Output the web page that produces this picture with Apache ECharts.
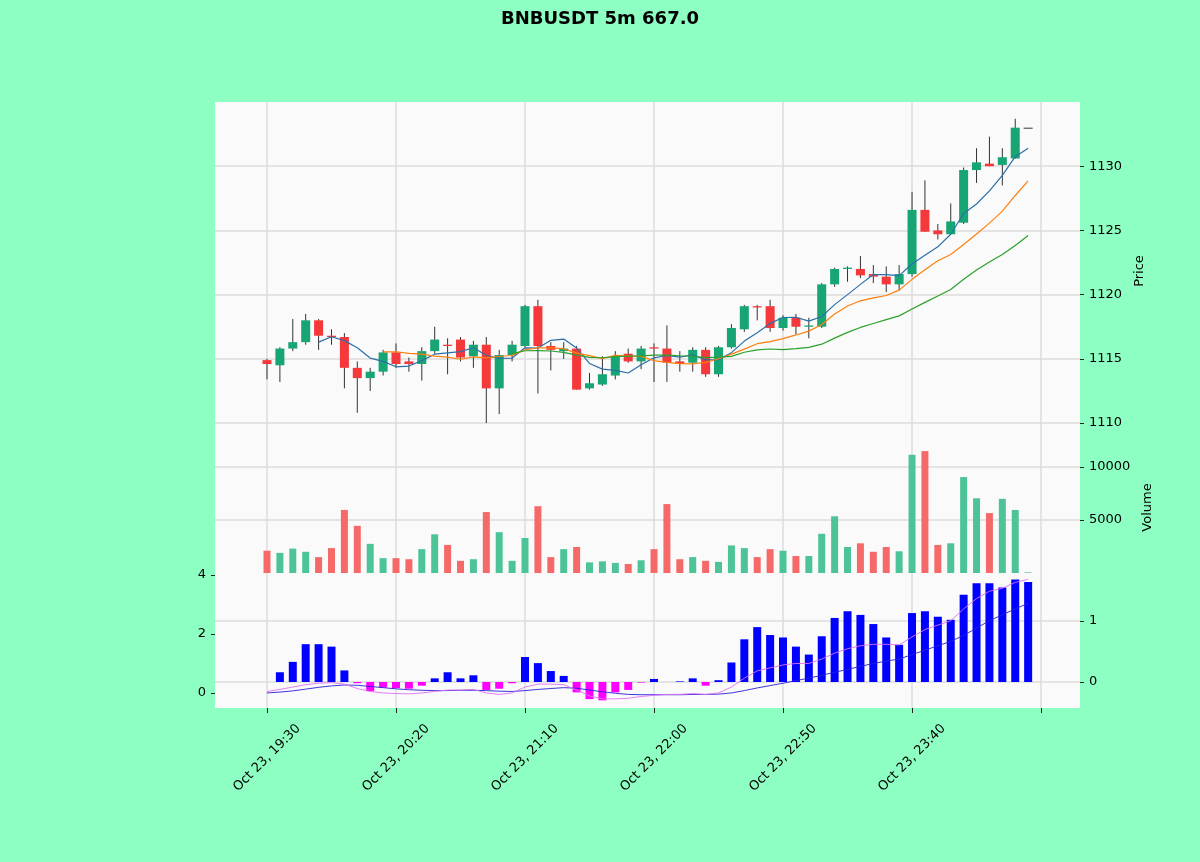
<!DOCTYPE html>
<html>
<head>
    <meta charset="utf-8">
    <title>BNBUSDT 5m</title>
    <script src="https://cdn.jsdelivr.net/npm/echarts@6/dist/echarts.min.js"></script>
    <style>
        html, body {margin: 0; padding: 0; background: #8effc2;}
        #chart {width: 1200px; height: 862px;}
    </style>
</head>
<body>
<div id="chart"></div>
<script type="text/javascript">
    // candle data, 5m bars from Oct 23 19:30
    var opens = [1114.9, 1114.5, 1115.8, 1116.3, 1118.0, 1116.8, 1116.7, 1114.3, 1113.5, 1114.0,
        1115.5, 1114.8, 1114.6, 1115.6, 1116.1, 1116.5, 1115.2, 1116.1, 1112.7, 1115.3,
        1116.0, 1119.1, 1116.0, 1115.6, 1115.8, 1112.7, 1113.0, 1113.7, 1115.4, 1114.8,
        1115.9, 1115.8, 1114.8, 1114.7, 1115.7, 1113.8, 1115.9, 1117.3, 1119.1, 1119.1,
        1117.4, 1118.2, 1117.5, 1117.5, 1120.8, 1122.0, 1122.0, 1121.6, 1121.4, 1120.8,
        1121.6, 1126.6, 1125.0, 1124.7, 1125.6, 1129.7, 1130.2, 1130.1, 1130.6, 1133.0];
    var highs = [1115.0, 1115.9, 1118.1, 1118.5, 1118.1, 1117.3, 1117.0, 1114.8, 1114.3, 1115.7,
        1116.2, 1115.1, 1115.9, 1117.5, 1116.6, 1116.7, 1116.4, 1116.7, 1115.7, 1116.4,
        1119.2, 1119.6, 1116.3, 1116.3, 1116.0, 1113.9, 1115.2, 1115.6, 1115.8, 1116.0,
        1116.2, 1117.6, 1115.6, 1115.9, 1115.9, 1116.0, 1117.7, 1119.2, 1119.2, 1119.6,
        1118.4, 1118.5, 1118.2, 1120.9, 1122.1, 1122.2, 1123.0, 1122.3, 1122.2, 1122.3,
        1128.0, 1128.9, 1125.5, 1127.1, 1129.9, 1131.4, 1132.3, 1131.4, 1133.7, 1133.0];
    var lows = [1113.4, 1113.2, 1115.6, 1116.1, 1115.7, 1116.1, 1112.7, 1110.8, 1112.5, 1113.7,
        1114.3, 1114.0, 1113.3, 1115.4, 1113.8, 1114.8, 1114.3, 1110.0, 1110.7, 1114.8,
        1115.9, 1112.3, 1114.1, 1115.0, 1112.6, 1112.6, 1112.9, 1113.4, 1114.7, 1114.2,
        1113.2, 1113.2, 1114.0, 1114.0, 1113.6, 1113.6, 1115.8, 1117.1, 1118.0, 1117.1,
        1117.2, 1116.9, 1116.6, 1117.4, 1120.6, 1121.0, 1121.3, 1120.9, 1120.2, 1120.3,
        1121.4, 1124.9, 1124.3, 1124.7, 1125.5, 1128.7, 1130.0, 1128.5, 1130.6, 1133.0];
    var closes = [1114.6, 1115.8, 1116.3, 1118.0, 1116.8, 1116.7, 1114.3, 1113.5, 1114.0, 1115.5,
        1114.6, 1114.6, 1115.6, 1116.5, 1116.0, 1115.1, 1116.1, 1112.7, 1115.3, 1116.1,
        1119.1, 1116.0, 1115.7, 1115.8, 1112.6, 1113.1, 1113.8, 1115.2, 1114.8, 1115.8,
        1115.8, 1114.7, 1114.6, 1115.7, 1113.8, 1115.9, 1117.4, 1119.1, 1119.0, 1117.4,
        1118.2, 1117.5, 1117.6, 1120.8, 1122.0, 1122.1, 1121.5, 1121.4, 1120.8, 1121.6,
        1126.6, 1124.9, 1124.7, 1125.7, 1129.7, 1130.3, 1130.0, 1130.7, 1133.0, 1133.0];
    var volumes = [2100, 1900, 2300, 2000, 1500, 2350, 5950, 4450, 2750, 1400,
        1400, 1300, 2250, 3650, 2650, 1150, 1300, 5750, 3850, 1150,
        3300, 6300, 1500, 2250, 2450, 1000, 1100, 950, 850, 1200,
        2250, 6500, 1300, 1500, 1150, 1050, 2600, 2350, 1500, 2250,
        2100, 1600, 1600, 3700, 5350, 2450, 2800, 2000, 2450, 2050,
        11150, 11500, 2650, 2800, 9050, 7050, 5650, 7000, 5950, 60];
    var macdHist = [null, 0.16, 0.33, 0.62, 0.62, 0.58, 0.19, -0.02, -0.15, -0.09,
        -0.10, -0.11, -0.06, 0.06, 0.16, 0.06, 0.11, -0.13, -0.11, -0.02,
        0.41, 0.31, 0.18, 0.10, -0.17, -0.28, -0.30, -0.17, -0.13, -0.01,
        0.05, 0.00, 0.01, 0.06, -0.06, 0.03, 0.32, 0.70, 0.90, 0.77,
        0.73, 0.58, 0.45, 0.75, 1.05, 1.16, 1.10, 0.95, 0.73, 0.61,
        1.13, 1.16, 1.07, 1.02, 1.43, 1.62, 1.62, 1.55, 1.68, 1.64];
    var macdLine = [0.05, 0.12, 0.20, 0.28, 0.33, 0.35, 0.30, 0.15, 0.05, 0.00,
        -0.02, -0.03, 0.00, 0.05, 0.10, 0.10, 0.12, 0.00, -0.05, 0.00,
        0.20, 0.30, 0.30, 0.28, 0.10, -0.10, -0.20, -0.20, -0.18, -0.12,
        -0.08, -0.05, -0.05, -0.02, -0.05, 0.00, 0.20, 0.50, 0.75, 0.85,
        0.95, 1.00, 1.00, 1.15, 1.35, 1.50, 1.60, 1.65, 1.65, 1.63,
        1.90, 2.15, 2.30, 2.45, 2.85, 3.20, 3.45, 3.55, 3.75, 3.85];
    var signalLine = [0.00, 0.03, 0.07, 0.13, 0.19, 0.24, 0.27, 0.26, 0.22, 0.18,
        0.14, 0.11, 0.09, 0.08, 0.08, 0.09, 0.09, 0.08, 0.06, 0.05,
        0.08, 0.12, 0.15, 0.18, 0.16, 0.10, 0.04, -0.01, -0.05, -0.06,
        -0.06, -0.06, -0.06, -0.05, -0.05, -0.04, 0.00, 0.08, 0.17, 0.25,
        0.33, 0.42, 0.50, 0.60, 0.70, 0.80, 0.90, 1.00, 1.08, 1.15,
        1.30, 1.45, 1.60, 1.75, 1.95, 2.20, 2.45, 2.65, 2.85, 3.04];
    var xTickPos = [0, 10, 20, 30, 40, 50, 60];
    var xTickLabels = ['Oct 23, 19:30', 'Oct 23, 20:20', 'Oct 23, 21:10', 'Oct 23, 22:00',
        'Oct 23, 22:50', 'Oct 23, 23:40', ''];
    var priceTicks = [1110, 1115, 1120, 1125, 1130];
    var volTicks = [5000, 10000];
    var macdLeftTicks = [0, 2, 4];
    var macdRightTicks = [0, 1];
    var maPeriods = [5, 10, 20];
    var maColors = ['#2b6fa8', '#ff7f0e', '#2ca02c'];

    var UP = '#17a673', DOWN = '#f5383a', WICK = '#333333';
    var VUP = '#4cc497', VDOWN = '#f56a68';
    var FONT = 'DejaVu Sans';

    var myChart = echarts.init(document.getElementById('chart'));

    var candleData = [], volData = [], histData = [];
    for (var i = 0; i < closes.length; i++) {
        candleData.push([i, opens[i], closes[i], lows[i], highs[i]]);
        volData.push({value: [i, volumes[i]], itemStyle: {color: closes[i] >= opens[i] ? VUP : VDOWN}});
        if (macdHist[i] !== null) {
            histData.push({value: [i, macdHist[i]], itemStyle: {color: macdHist[i] >= 0 ? '#0000ff' : '#ff00ff'}});
        }
    }

    function sma(n) {
        var out = [];
        for (var i = n - 1; i < closes.length; i++) {
            var s = 0;
            for (var k = i - n + 1; k <= i; k++) s += closes[k];
            out.push([i, s / n]);
        }
        return out;
    }

    function pairs(arr) {
        return arr.map(function (v, i) { return [i, v]; });
    }

    var gridLine = {show: true, lineStyle: {color: '#dcdcdc', width: 1.5}};

    function xAxisFor(gi, bottom) {
        return {
            type: 'value', gridIndex: gi, min: -4.03, max: 63.02,
            axisLine: {show: false, onZero: false},
            axisTick: {show: true, customValues: xTickPos, length: bottom ? 5 : 0,
                lineStyle: {color: '#222'}},
            axisLabel: bottom ? {
                show: true, customValues: xTickPos.slice(0, 6), rotate: 45,
                align: 'center', verticalAlign: 'middle', margin: 50,
                color: '#000', fontSize: 13, fontFamily: FONT,
                formatter: function (v) {
                    var k = xTickPos.indexOf(v);
                    return k >= 0 ? xTickLabels[k] : '';
                }
            } : {show: false},
            splitLine: gridLine
        };
    }

    function yAxisFor(gi, pos, min, max, ticks, split, name, gap) {
        var ax = {
            type: 'value', gridIndex: gi, position: pos, min: min, max: max,
            axisLine: {show: false, onZero: false},
            axisTick: {show: true, customValues: ticks, length: 4, lineStyle: {color: '#222'}},
            axisLabel: {
                customValues: ticks, margin: 9, color: '#000', fontSize: 13, fontFamily: FONT,
                formatter: function (v) { return String(v); }
            },
            splitLine: split ? gridLine : {show: false}
        };
        if (name) {
            ax.name = name;
            ax.nameLocation = 'middle';
            ax.nameRotate = 90;
            ax.nameGap = gap;
            ax.nameTextStyle = {color: '#000', fontSize: 13, fontFamily: FONT};
        }
        return ax;
    }

    var series = [{
        type: 'custom',
        xAxisIndex: 0, yAxisIndex: 0,
        data: candleData,
        encode: {x: 0, y: [1, 2, 3, 4]},
        z: 3,
        renderItem: function (params, api) {
            var x = api.value(0), o = api.value(1), c = api.value(2), l = api.value(3), h = api.value(4);
            var pO = api.coord([x, o]), pC = api.coord([x, c]);
            var pL = api.coord([x, l]), pH = api.coord([x, h]);
            var w = api.size([1, 0])[0] * 0.7;
            var col = c >= o ? UP : DOWN;
            var top = Math.min(pO[1], pC[1]);
            var hgt = Math.max(Math.abs(pO[1] - pC[1]), 1);
            return {
                type: 'group',
                children: [
                    {type: 'line', shape: {x1: pH[0], y1: pH[1], x2: pL[0], y2: pL[1]},
                        style: {stroke: WICK, lineWidth: 1}},
                    {type: 'rect', shape: {x: pO[0] - w / 2, y: top, width: w, height: hgt},
                        style: {fill: (o === c && o === h) ? WICK : col, stroke: null}}
                ]
            };
        }
    }];

    maPeriods.forEach(function (n, k) {
        series.push({
            type: 'line', xAxisIndex: 0, yAxisIndex: 0, data: sma(n),
            showSymbol: false, smooth: false, z: 4,
            lineStyle: {color: maColors[k], width: 1.2}
        });
    });

    series.push({
        type: 'bar', xAxisIndex: 1, yAxisIndex: 1, data: volData, barWidth: 7
    });
    series.push({
        type: 'bar', xAxisIndex: 2, yAxisIndex: 3, data: histData, barWidth: 8
    });
    series.push({
        type: 'line', xAxisIndex: 2, yAxisIndex: 2, data: pairs(signalLine),
        showSymbol: false, z: 4, lineStyle: {color: '#2a1fd9', width: 0.9}
    });
    series.push({
        type: 'line', xAxisIndex: 2, yAxisIndex: 2, data: pairs(macdLine),
        showSymbol: false, z: 4, lineStyle: {color: '#e070f0', width: 0.9}
    });

    var option = {
        backgroundColor: '#8effc2',
        animation: false,
        title: {
            text: 'BNBUSDT 5m 667.0', left: 'center', top: 5,
            textStyle: {color: '#000', fontSize: 18, fontWeight: 'bold', fontFamily: FONT}
        },
        grid: [
            {left: 215, width: 865, top: 102, height: 338, show: true, backgroundColor: '#fafafa', borderWidth: 0, outerBoundsMode: 'none'},
            {left: 215, width: 865, top: 440, height: 135, show: true, backgroundColor: '#fafafa', borderWidth: 0, outerBoundsMode: 'none'},
            {left: 215, width: 865, top: 575, height: 133, show: true, backgroundColor: '#fafafa', borderWidth: 0, outerBoundsMode: 'none'}
        ],
        xAxis: [xAxisFor(0, false), xAxisFor(1, false), xAxisFor(2, true)],
        yAxis: [
            yAxisFor(0, 'right', 1108.68, 1135.0, priceTicks, true, 'Price', 47),
            yAxisFor(1, 'right', -189, 12547, volTicks, true, 'Volume', 53),
            yAxisFor(2, 'left', -0.51, 4.0, macdLeftTicks, false),
            yAxisFor(2, 'right', -0.426, 1.754, macdRightTicks, true)
        ],
        series: series
    };

    myChart.setOption(option);
</script>
</body>
</html>
